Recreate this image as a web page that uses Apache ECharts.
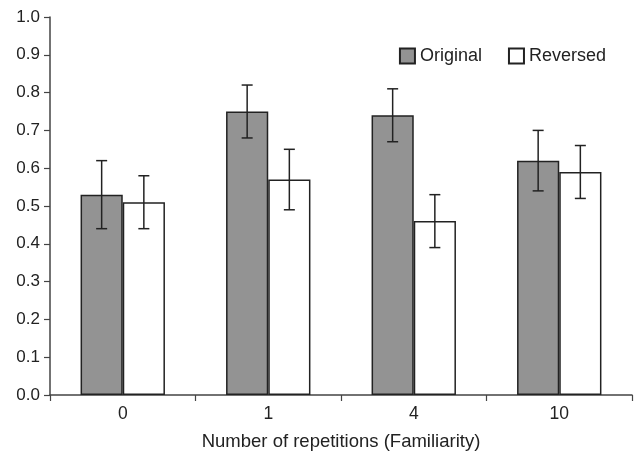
<!DOCTYPE html>
<html>
<head>
<meta charset="utf-8">
<script src="https://cdn.jsdelivr.net/npm/echarts@6/dist/echarts.min.js"></script>
<style>
  html, body { margin: 0; padding: 0; background: #fff; }
  #chart { width: 636px; height: 452px; }
</style>
</head>
<body>
<div id="chart"></div>
<script>
// categories and values
const categories = ['0', '1', '4', '10']
const original = [0.53, 0.75, 0.74, 0.62]
const originalLow = [0.44, 0.68, 0.67, 0.54]
const originalHigh = [0.62, 0.82, 0.81, 0.70]
const reversed = [0.51, 0.57, 0.46, 0.59]
const reversedLow = [0.44, 0.49, 0.39, 0.52]
const reversedHigh = [0.58, 0.65, 0.53, 0.66]

const font = 'Liberation Sans'
const barFrac = 0.29

const chart = echarts.init(document.getElementById('chart'))

// error bars: side = -1 for the left bar, +1 for the right bar
function errorBar(side) {
  return function (params, api) {
    const idx = api.value(0)
    const hi = api.coord([idx, api.value(2)])
    const lo = api.coord([idx, api.value(1)])
    const band = api.size([1, 0])[0]
    const x = hi[0] + side * band * barFrac / 2
    const cap = 5.5
    const style = { stroke: '#222', lineWidth: 1.5 }
    return {
      type: 'group',
      children: [
        { type: 'line', shape: { x1: x, y1: hi[1], x2: x, y2: lo[1] }, style: style },
        { type: 'line', shape: { x1: x - cap, y1: hi[1], x2: x + cap, y2: hi[1] }, style: style },
        { type: 'line', shape: { x1: x - cap, y1: lo[1], x2: x + cap, y2: lo[1] }, style: style }
      ]
    }
  }
}

const option = {
  animation: false,
  backgroundColor: '#fff',
  textStyle: { fontFamily: font, color: '#222' },
  grid: { left: 50, right: 4, top: 17, bottom: 57, outerBoundsMode: 'none', containLabel: false },
  legend: {
    data: ['Original', 'Reversed'],
    icon: 'rect',
    right: 25,
    top: 42,
    itemWidth: 15,
    itemHeight: 15,
    itemGap: 26,
    textStyle: { fontFamily: font, fontSize: 18, color: '#222' }
  },
  xAxis: {
    type: 'category',
    data: categories,
    name: 'Number of repetitions (Familiarity)',
    nameLocation: 'middle',
    nameGap: 37,
    nameTextStyle: { fontFamily: font, fontSize: 18.5, color: '#222' },
    axisLine: { lineStyle: { color: '#444', width: 1.5 } },
    axisTick: { show: true, length: 6, lineStyle: { color: '#444', width: 1.2 } },
    axisLabel: { fontFamily: font, fontSize: 17.5, color: '#222', margin: 10 }
  },
  yAxis: {
    type: 'value',
    min: 0,
    max: 1,
    interval: 0.1,
    splitLine: { show: false },
    axisLine: { show: true, lineStyle: { color: '#444', width: 1.5 } },
    axisTick: { show: true, length: 6, lineStyle: { color: '#444', width: 1.2 } },
    axisLabel: {
      fontFamily: font,
      fontSize: 17,
      color: '#222',
      margin: 10,
      formatter: v => v.toFixed(1)
    }
  },
  series: [
    {
      name: 'Original',
      type: 'bar',
      data: original,
      barWidth: (barFrac * 100) + '%',
      barGap: '0%',
      itemStyle: { color: '#939393', borderColor: '#222', borderWidth: 1.5 }
    },
    {
      name: 'Reversed',
      type: 'bar',
      data: reversed,
      barWidth: (barFrac * 100) + '%',
      barGap: '0%',
      itemStyle: { color: '#fff', borderColor: '#222', borderWidth: 1.5 }
    },
    {
      type: 'custom',
      renderItem: errorBar(-1),
      data: categories.map((c, i) => [i, originalLow[i], originalHigh[i]]),
      z: 10
    },
    {
      type: 'custom',
      renderItem: errorBar(1),
      data: categories.map((c, i) => [i, reversedLow[i], reversedHigh[i]]),
      z: 10
    }
  ]
}

chart.setOption(option)
</script>
</body>
</html>
